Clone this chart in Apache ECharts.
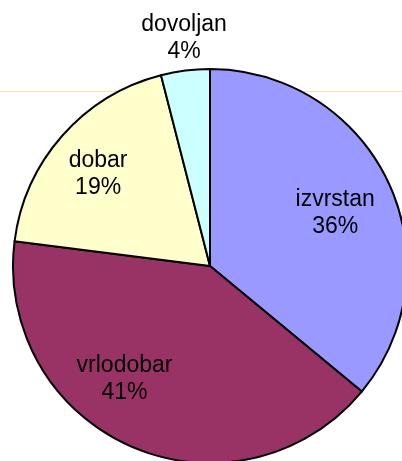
<!DOCTYPE html>
<html lang="hr">
<head>
    <meta charset="UTF-8">
    <title>Ocjene</title>
    <script src="https://cdn.jsdelivr.net/npm/echarts@6/dist/echarts.min.js"></script>
    <style>
        html, body {
            margin: 0;
            padding: 0;
            width: 100%;
            height: 100%;
            background: #ffffff;
        }
        #chart {
            width: 402px;
            height: 461px;
        }
    </style>
</head>
<body>
<div id="chart"></div>
<script>
    // podaci
    var categories = ['izvrstan', 'vrlodobar', 'dobar', 'dovoljan'];
    var values = [36, 41, 19, 4];
    var colors = ['#9999FF', '#993366', '#FFFFCC', '#CCFFFF'];

    var cx = 210, cy = 266, R = 197;
    // label placement: [angle from top (deg, clockwise), distance from centre]
    var labelPolar = [[67, 136], [217, 142], [309.5, 145], [353.5, 229]];

    var chart = echarts.init(document.getElementById('chart'));

    var pieData = categories.map(function (name, i) {
        return { name: name, value: values[i], itemStyle: { color: colors[i] } };
    });

    chart.setOption({
        animation: false,
        graphic: [{
            type: 'line',
            z: -10,
            shape: { x1: 0, y1: 91.5, x2: 402, y2: 91.5 },
            style: { stroke: '#F3E4A8', lineWidth: 1 }
        }],
        series: [{
            type: 'pie',
            center: [cx, cy],
            radius: R,
            startAngle: 90,
            clockwise: true,
            silent: true,
            itemStyle: { borderColor: '#000', borderWidth: 2 },
            label: {
                show: true,
                position: 'inside',
                formatter: '{b}\n{d}%',
                fontFamily: '"Liberation Sans", Arial, sans-serif',
                fontSize: 23,
                lineHeight: 27,
                color: '#000'
            },
            labelLine: { show: false },
            labelLayout: function (p) {
                var a = labelPolar[p.dataIndex][0] * Math.PI / 180;
                var r = labelPolar[p.dataIndex][1];
                return {
                    x: cx + r * Math.sin(a),
                    y: cy - r * Math.cos(a),
                    align: 'center',
                    verticalAlign: 'middle'
                };
            },
            data: pieData
        }]
    });
</script>
</body>
</html>
